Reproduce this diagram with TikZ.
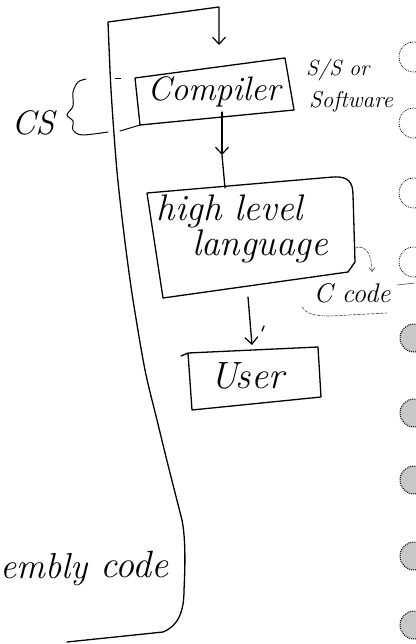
\documentclass[tikz,border=0pt]{standalone}
\usetikzlibrary{arrows.meta}
\begin{document}
\begin{tikzpicture}[x=1pt,y=-1pt,
  hand/.style={line width=1.3pt,line cap=round,line join=round},
  faint/.style={line width=0.6pt,black!70,dash pattern=on 3pt off 1.5pt,line cap=round},
  barb/.style={-{Straight Barb[length=7pt,width=13pt,line width=1.2pt]}},
  lbl/.style={inner sep=0pt,font=\itshape},
  hole/.style={line width=0.8pt,densely dotted},
  holedark/.style={line width=1pt,densely dotted,fill=black!22}]
\useasboundingbox (0,0) rectangle (415,644);

% ---- labels ----
\node[lbl,font=\fontsize{34}{36}\selectfont\itshape] (comp) at (214,92) {Compiler};
\node[lbl,font=\fontsize{37}{40}\selectfont\itshape] (hll1) at (230,211) {high level};
\node[lbl,font=\fontsize{37}{40}\selectfont\itshape] (hll2) at (260,246) {language};
\node[lbl,font=\fontsize{38}{40}\selectfont\itshape] (user) at (247,376) {User};
\node[lbl,font=\fontsize{34}{36}\selectfont\itshape] (cs) at (33,123) {CS};
\node[lbl,font=\fontsize{22}{24}\selectfont\itshape,anchor=west] (ss) at (306,70) {S/S or};
\node[lbl,font=\fontsize{23}{24}\selectfont\itshape,anchor=west] (sw) at (309,102) {Software};
\node[lbl,font=\fontsize{27}{30}\selectfont\itshape] (ccode) at (352,293) {C code};
\node[lbl,font=\fontsize{36}{40}\selectfont\itshape,anchor=base west] (asm1) at (0,578) {embly};
\node[lbl,font=\fontsize{38}{40}\selectfont\itshape,anchor=base west] (asm2) at (100,577) {code};

% ---- box outlines ----
\coordinate (compTop) at (219,45);
\coordinate (compBot) at (222,112);
\draw[hand] (135,78) -- (285,58) -- (294,110) -- (140,125) -- cycle;

\coordinate (hllTop) at (225,188);
\coordinate (hllBot) at (248,297);
\coordinate (hllSide) at (355,248);
\draw[hand] (147,193) -- (333,177) .. controls (348,176) and (353,182) .. (353,195)
  -- (355,262) -- (348,272) -- (163,298) -- cycle;

\coordinate (userTop) at (252,345);
\draw[hand] (181,356) -- (188,353) -- (318,347) -- (321,397) -- (192,410) -- (188,353);

% ---- feedback loop from assembly code back to the compiler ----
\draw[hand,barb] (67,642) -- (163,632)
  .. controls (178,626) and (184,612) .. (184,590)
  .. controls (185,570) and (186,540) .. (182,520)
  plot[smooth] coordinates {(182,520) (168,465) (157,420) (145,370) (133,300) (126,250) (120,200) (116,160) (111,90) (108,22)}
  -- (219,7) -- (compTop);

% ---- flow arrows ----
\coordinate (midA) at (222,155);
\draw[hand,barb] (compBot) -- (midA);
\draw[hand] (midA) -- (hllTop);
\draw[hand,barb] (hllBot) -- (userTop);
\draw[hand] (262,331) -- (264,326);

% ---- CS brace ----
\draw[line width=1pt,line cap=round] plot[smooth] coordinates
  {(86,79) (78,82) (73,92) (73,106) (67,115) (73,121) (73,130) (82,135) (108,132)};
\draw[line width=1pt,line cap=round] (120,131) -- (140,125);
\draw[line width=0.8pt] (115,78) -- (121,78);

% ---- C code annotation ----
\draw[faint,-{Straight Barb[length=4pt,width=6pt]}] (hllSide) .. controls (366,244) and (372,255) .. (372,272);
\draw[faint] (302,307) .. controls (306,313) and (312,316) .. (330,316) -- (387,313);
\draw[line width=0.6pt,black!70] (397,285) -- (415,283);

% ---- punched holes along the right edge ----
\foreach \y in {57,123,193,262}
  \draw[hole] (414,\y) circle (15);
\foreach \y in {338,413,480,556,625}
  \draw[holedark] (414,\y) circle (14);
\end{tikzpicture}
\end{document}
